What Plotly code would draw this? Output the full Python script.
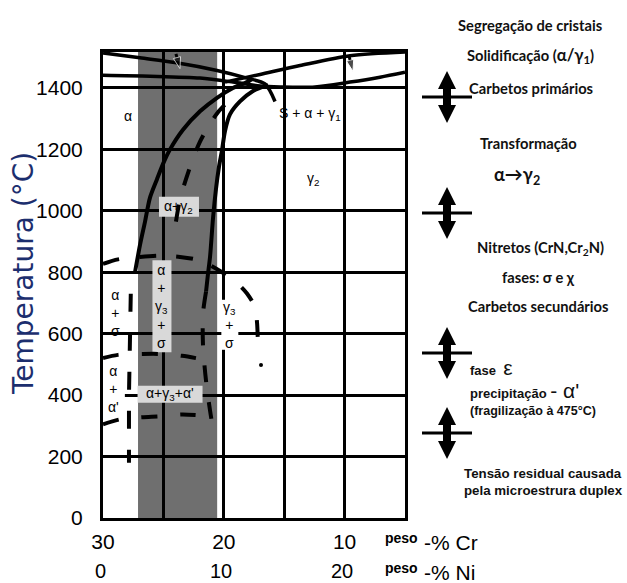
import plotly.graph_objects as go

# ---------------- data ----------------
CR_TICKS = [30, 25, 20, 15, 10, 5]
CR_LABELS = ["30", "", "20", "", "10", ""]
NI_TICKS = [0, 10, 20]
T_TICKS = [0, 200, 400, 600, 800, 1000, 1200, 1400]
T_MAX = 1517
CR_RANGE = [30, 5]

DUPLEX_CR = [27.1, 20.55]          # grey band (duplex composition range)

# alpha / (alpha+gamma) boundary (solid)
A_CR = [27.35, 26.94, 26.52, 26.11, 25.53, 24.95, 24.45, 23.38, 21.97, 20.56, 19.24, 18.08, 17.67]
A_T = [800, 888, 965, 1043, 1103, 1160, 1200, 1264, 1324, 1368, 1400, 1419, 1429]

# gamma2 boundary (dashed, middle)
B_CR = [23.96, 23.63, 23.13, 22.55, 21.97, 21.31, 20.48, 19.65, 18.99]
B_T = [965, 1037, 1103, 1170, 1225, 1273, 1321, 1356, 1381]

# (alpha+gamma)/gamma boundary (solid) and its low-temperature dashed part
C_CR = [21.47, 21.31, 21.14, 20.89, 20.65, 20.40, 20.15, 19.90, 19.49, 18.66, 17.58, 16.34]
C_T = [737, 794, 850, 977, 1070, 1143, 1197, 1260, 1314, 1356, 1390, 1410]
CD_CR = [21.47, 21.72, 21.72, 21.47, 21.14, 20.81]
CD_T = [737, 666, 561, 446, 350, 271]

# sigma dome (dashed)
S_CR = [30, 28.76, 26.94, 25.28, 23.63, 21.97, 20.31, 19.07, 18.08, 17.42, 17.25, 17.17]
S_T = [827, 842, 850, 854, 850, 838, 804, 771, 731, 686, 637, 561]
S_DOT = [16.92, 498]

# vertical dashed line (alpha+sigma / alpha+alpha')
V_CR = [27.7, 27.85, 27.85]
V_T = [730, 400, 180]

# lower dashed boundaries
D1_CR = [30, 28.76, 26.69, 25.28, 23.46, 21.97]
D1_T = [521, 531, 534, 534, 528, 518]
D2_CR = [30, 28.59, 26.77, 25.28, 23.46, 21.97]
D2_T = [305, 321, 328, 331, 337, 334]

# liquidus / solidus lines at the top
L1_CR = [30, 26.94, 24.04, 20.56, 18.08, 16.59, 15.76]
L1_T = [1514, 1498, 1483, 1457, 1432, 1413, 1356]
L2_CR = [30, 26.11, 21.97, 19.24, 17.00, 15.34, 12.45, 9.55, 7.07, 5]
L2_T = [1441, 1438, 1432, 1419, 1406, 1403, 1403, 1419, 1435, 1451]
L3_CR = [19.90, 17.00, 13.69, 9.55, 5]
L3_T = [1419, 1444, 1473, 1505, 1517]

# small arrows on the liquidus lines
ARR1_CR, ARR1_T = [23.96, 23.63], [1511, 1463]
ARR2_CR, ARR2_T = [9.64, 9.31], [1505, 1454]

# phase labels: (text, Cr, T, box colour or None, box w px, box h px)
PHASE_LABELS = [
    ("α", 27.93, 1308, None, 0, 0),
    ("S + α + γ<sub>1</sub>", 12.86, 1314, None, 0, 0),
    ("γ<sub>2</sub>", 12.62, 1103, None, 0, 0),
    ("α+γ<sub>2</sub>", 23.71, 1013, "#d9d9d9", 40, 20),
    ("α<br>+<br>γ<sub>3</sub><br>+<br>σ", 25.12, 689, "#d9d9d9", 19, 92),
    ("α<br>+<br>σ", 29.0, 666, None, 0, 0),
    ("γ<sub>3</sub><br>+<br>σ", 19.5, 629, "white", 17, 50),
    ("α<br>+<br>α'", 29.1, 420, "white", 22, 50),
    ("α+γ<sub>3</sub>+α'", 24.45, 403, "#d9d9d9", 65, 17),
]

# ---------------- layout geometry ----------------
W, H = 627, 583
L, R, TOP, BOT = 103, 405, 52, 518


def px_x(px):
    return (px - L) / (R - L)


def px_y(py):
    return (BOT - py) / (BOT - TOP)


PX_PER_CR = (R - L) / abs(CR_RANGE[0] - CR_RANGE[1])
PX_PER_T = (BOT - TOP) / T_MAX

fig = go.Figure()

BLACK = "black"


def add_line(x, y, dash=None, width=4, shape="spline"):
    fig.add_trace(go.Scatter(
        x=x, y=y, mode="lines",
        line=dict(color=BLACK, width=width, dash=dash, shape=shape, smoothing=0.8),
        hoverinfo="skip", showlegend=False))


DASH = "17px,20px"
add_line(A_CR, A_T)
add_line(B_CR, B_T, dash=DASH)
add_line(C_CR, C_T)
add_line(CD_CR, CD_T, dash=DASH)
add_line(S_CR, S_T, dash=DASH)
add_line(V_CR, V_T, dash="18px,21px", shape="linear")
add_line(D1_CR, D1_T, dash="16px,23px")
add_line(D2_CR, D2_T, dash="16px,23px")
add_line(L1_CR, L1_T, width=3.5)
add_line(L2_CR, L2_T, width=3.5)
add_line(L3_CR, L3_T, width=3.5)

fig.add_trace(go.Scatter(x=[S_DOT[0]], y=[S_DOT[1]], mode="markers",
                         marker=dict(color=BLACK, size=4), hoverinfo="skip", showlegend=False))
for ax_, ay_ in [(ARR1_CR, ARR1_T), (ARR2_CR, ARR2_T)]:
    fig.add_trace(go.Scatter(
        x=ax_, y=ay_, mode="lines+markers",
        line=dict(color=BLACK, width=3),
        marker=dict(symbol=["circle", "arrow"], size=[0, 12], color=BLACK, angleref="previous"),
        hoverinfo="skip", showlegend=False))

shapes = []
# grey duplex band
shapes.append(dict(type="rect", xref="x", yref="y", x0=DUPLEX_CR[0], x1=DUPLEX_CR[1],
                   y0=0, y1=T_MAX, fillcolor="#6f6f6f", line=dict(width=0), layer="below"))

annotations = []
for text, cr, t, box, bw, bh in PHASE_LABELS:
    if box:
        dx = bw / 2 / PX_PER_CR
        dy = bh / 2 / PX_PER_T
        shapes.append(dict(type="rect", xref="x", yref="y", x0=cr + dx, x1=cr - dx,
                           y0=t - dy, y1=t + dy, fillcolor=box, line=dict(width=0),
                           layer="between"))
    annotations.append(dict(x=cr, y=t, xref="x", yref="y", text=text, showarrow=False,
                            font=dict(family="Liberation Sans, Arial", size=14, color=BLACK),
                            xanchor="center", yanchor="middle"))


# double arrows on the right (decorative, pixel geometry)
def double_arrow(cx, cy, half=26, head=18, hw=9, sw=4):
    top, bot = cy - half, cy + half
    pts = [(cx, top), (cx + hw, top + head), (cx + sw, top + head), (cx + sw, bot - head),
           (cx + hw, bot - head), (cx, bot), (cx - hw, bot - head), (cx - sw, bot - head),
           (cx - sw, top + head), (cx - hw, top + head)]
    path = "M " + " L ".join(f"{px_x(x):.4f},{px_y(y):.4f}" for x, y in pts) + " Z"
    shapes.append(dict(type="path", xref="paper", yref="paper", path=path,
                       fillcolor=BLACK, line=dict(width=0), layer="above"))
    shapes.append(dict(type="line", xref="paper", yref="paper", x0=px_x(cx - 25), x1=px_x(cx + 25),
                       y0=px_y(cy), y1=px_y(cy), line=dict(color=BLACK, width=3), layer="above"))


for cy in [97, 213, 353, 433]:
    double_arrow(447, cy)

CAL = "Lato, Carlito, Calibri, sans-serif"
ARI = "Liberation Sans, Arial, sans-serif"
right_texts = [
    ("<b>Segregação de cristais</b>", 530, 25, "center", CAL, 14.7),
    ("<b>Solidificação (<span style='font-size:16.5px'>α/γ<sub>1</sub></span>)</b>", 530, 55, "center", CAL, 14.7),
    ("<b>Carbetos primários</b>", 531, 88, "center", CAL, 14.7),
    ("<b>Transformação</b>", 528, 143, "center", CAL, 14.7),
    ("<b>α→γ<sub>2</sub></b>", 517, 175, "center", CAL, 18),
    ("<b>Nitretos (CrN,Cr<sub>2</sub>N)</b>", 540, 248, "center", CAL, 14.7),
    ("<b>fases: σ e χ</b>", 538, 277, "center", CAL, 14.7),
    ("<b>Carbetos secundários</b>", 538, 306, "center", CAL, 14.7),
    ("<b>fase</b>  <span style='font-size:21px'>ε</span>", 468, 367, "left", ARI, 13),
    ("<b>precipitação</b> <span style='font-size:21px'>- α'</span>", 468, 391, "left", ARI, 13),
    ("<b>(fragilização à 475°C)</b>", 468, 411, "left", ARI, 12.5),
    ("<b>Tensão residual causada</b>", 462, 473, "left", ARI, 13.3),
    ("<b>pela microestrura duplex</b>", 462, 490, "left", ARI, 13.3),
]
for text, x, y, anc, fam, size in right_texts:
    annotations.append(dict(x=px_x(x), y=px_y(y), xref="paper", yref="paper", text=text,
                            showarrow=False, xanchor=anc, yanchor="middle",
                            font=dict(family=fam, size=size, color="#111111")))

# Ni tick row and axis names
for ni in NI_TICKS:
    annotations.append(dict(x=30 - ni, y=px_y(571), xref="x", yref="paper", text=str(ni),
                            showarrow=False, xanchor="center", yanchor="middle", xshift=-3,
                            font=dict(family=ARI, size=20, color=BLACK)))
for lbl, yy in [("Cr", 541), ("Ni", 571)]:
    annotations.append(dict(x=px_x(383), y=px_y(yy - 3), xref="paper", yref="paper",
                            text="<b>peso</b>", showarrow=False, xanchor="left", yanchor="middle",
                            font=dict(family=ARI, size=14, color=BLACK)))
    annotations.append(dict(x=px_x(422), y=px_y(yy + 1), xref="paper", yref="paper",
                            text="-% " + lbl, showarrow=False, xanchor="left", yanchor="middle",
                            font=dict(family=ARI, size=21, color=BLACK)))

# y-axis title
annotations.append(dict(x=px_x(23), y=px_y(274), xref="paper", yref="paper",
                        text="Temperatura (°C)", textangle=-90, showarrow=False,
                        xanchor="center", yanchor="middle",
                        font=dict(family="DejaVu Sans", size=28, color="#1c2e6e")))

fig.update_layout(
    width=W, height=H,
    margin=dict(l=L, r=W - R, t=TOP, b=H - BOT, pad=0),
    paper_bgcolor="white", plot_bgcolor="white",
    showlegend=False,
    shapes=shapes, annotations=annotations,
    xaxis=dict(range=CR_RANGE, tickmode="array", tickvals=CR_TICKS, ticktext=CR_LABELS,
               showgrid=True, gridcolor=BLACK, gridwidth=2.5, zeroline=False,
               showline=True, linecolor=BLACK, linewidth=3, mirror=True,
               ticks="", ticklabelstandoff=3,
               tickfont=dict(family=ARI, size=21, color=BLACK)),
    yaxis=dict(range=[0, T_MAX], tickmode="array", tickvals=T_TICKS,
               showgrid=True, gridcolor=BLACK, gridwidth=2.5, zeroline=False,
               showline=True, linecolor=BLACK, linewidth=3, mirror=True,
               ticks="", ticklabelstandoff=13,
               tickfont=dict(family=ARI, size=21, color=BLACK)),
)

fig.write_html("out.html")
